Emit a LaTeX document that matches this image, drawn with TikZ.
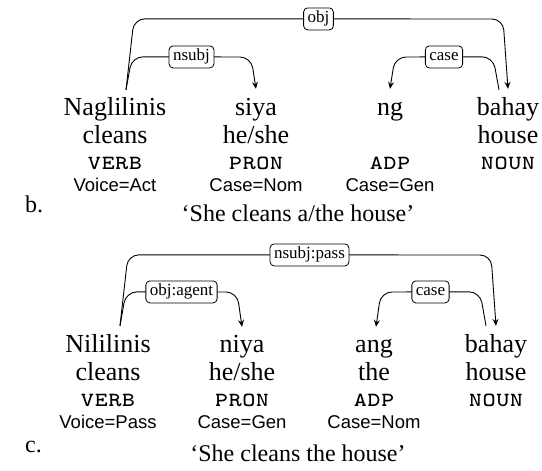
\documentclass[tikz,border=0pt]{standalone}
\usepackage{fontspec}
\setmainfont{Liberation Serif}
\setsansfont{Liberation Sans}
\usetikzlibrary{arrows.meta,calc}
\tikzset{
  wd/.style={font=\fontsize{26}{30}\selectfont, inner sep=0pt, text height=18pt, text depth=6pt, anchor=base},
  gl/.style={font=\fontsize{26}{30}\selectfont, inner sep=0pt, anchor=base},
  upos/.style={font=\fontsize{26}{28}\ttfamily\scshape, inner sep=0pt, anchor=base},
  feat/.style={font=\fontsize{18.5}{20}\sffamily, inner sep=0pt, anchor=base},
  trans/.style={font=\fontsize{24}{28}\selectfont, inner sep=0pt, anchor=base},
  exlab/.style={font=\fontsize{24}{28}\selectfont, inner sep=0pt, anchor=base west},
  lab/.style={draw, fill=white, rounded corners=4pt, font=\fontsize{17}{19}\selectfont, inner xsep=4pt, inner ysep=3pt, line width=0.8pt, text height=12pt, text depth=4pt},
  dep/.style={line width=0.9pt, rounded corners=11pt},
  deparr/.style={dep, -{Stealth[length=7pt,width=6pt,inset=2.5pt]}}
}
\begin{document}
\begin{tikzpicture}[x=1pt,y=-1pt]
\useasboundingbox (0,0) rectangle (542,471);
% ---------- block b ----------
\node[wd] (b1) at (115,115) {Naglilinis};
\node[wd] (b2) at (256,115) {siya};
\node[wd] (b3) at (390,115) {ng};
\node[wd] (b4) at (508,115) {bahay};
\node[gl] (b1g) at (115,143) {cleans};
\node[gl] (b2g) at (256,143) {he/she};
\node[gl] (b4g) at (508,143) {house};
\node[upos] (b1p) at (115,169) {verb};
\node[upos] (b2p) at (256,169) {pron};
\node[upos] (b3p) at (390,169) {adp};
\node[upos] (b4p) at (508,169) {noun};
\node[feat] (b1f) at (115,191) {Voice=Act};
\node[feat] (b2f) at (256,191) {Case=Nom};
\node[feat] (b3f) at (390,191) {Case=Gen};
\node[exlab] (bl) at (25,212) {b.};
\node[trans] (bt) at (298,221) {‘She cleans a/the house’};
\coordinate (b1s) at ([shift={(11,-7)}]b1.north);
\coordinate (b4s) at ([shift={(-9,-7)}]b4.north);
\coordinate (b2e) at ([shift={(0,-8)}]b2.north);
\coordinate (b3e) at ([shift={(0,-8)}]b3.north);
\coordinate (b4e) at ([shift={(0,-8)}]b4.north);
\draw[deparr] (b1s) -- ++(8,-71) -- node[lab]{obj} ([xshift=-5pt]b4e |- 0,19) -- (b4e);
\draw[deparr] (b1s) -- ++(6,-33) -- node[lab]{nsubj} ([xshift=-5pt]b2e |- 0,57) -- (b2e);
\draw[deparr] (b4s) -- ++(-6,-33) -- node[lab]{case} ([xshift=5pt]b3e |- 0,57) -- (b3e);
% ---------- block c ----------
\node[wd] (c1) at (108,352) {Nililinis};
\node[wd] (c2) at (242,352) {niya};
\node[wd] (c3) at (374,352) {ang};
\node[wd] (c4) at (496,352) {bahay};
\node[gl] (c1g) at (108,380) {cleans};
\node[gl] (c2g) at (242,380) {he/she};
\node[gl] (c3g) at (374,380) {the};
\node[gl] (c4g) at (496,380) {house};
\node[upos] (c1p) at (108,406) {verb};
\node[upos] (c2p) at (242,406) {pron};
\node[upos] (c3p) at (374,406) {adp};
\node[upos] (c4p) at (496,406) {noun};
\node[feat] (c1f) at (108,428) {Voice=Pass};
\node[feat] (c2f) at (242,428) {Case=Gen};
\node[feat] (c3f) at (374,428) {Case=Nom};
\node[exlab] (cl) at (25,452) {c.};
\node[trans] (ct) at (298,461) {‘She cleans the house’};
\coordinate (c1s) at ([shift={(12,-8)}]c1.north);
\coordinate (c4s) at ([shift={(-10,-8)}]c4.north);
\coordinate (c2e) at ([shift={(0,-7)}]c2.north);
\coordinate (c3e) at ([shift={(2,-7)}]c3.north);
\coordinate (c4e) at ([shift={(0,-8)}]c4.north);
\draw[deparr] (c1s) -- ++(8,-71) -- node[lab]{nsubj:pass} ([xshift=-5pt]c4e |- 0,255) -- (c4e);
\draw[deparr] (c1s) -- ++(6,-34) -- node[lab]{obj:agent} ([xshift=-5pt]c2e |- 0,292) -- (c2e);
\draw[deparr] (c4s) -- ++(-6,-34) -- node[lab]{case} ([xshift=5pt]c3e |- 0,292) -- (c3e);
\end{tikzpicture}
\end{document}
